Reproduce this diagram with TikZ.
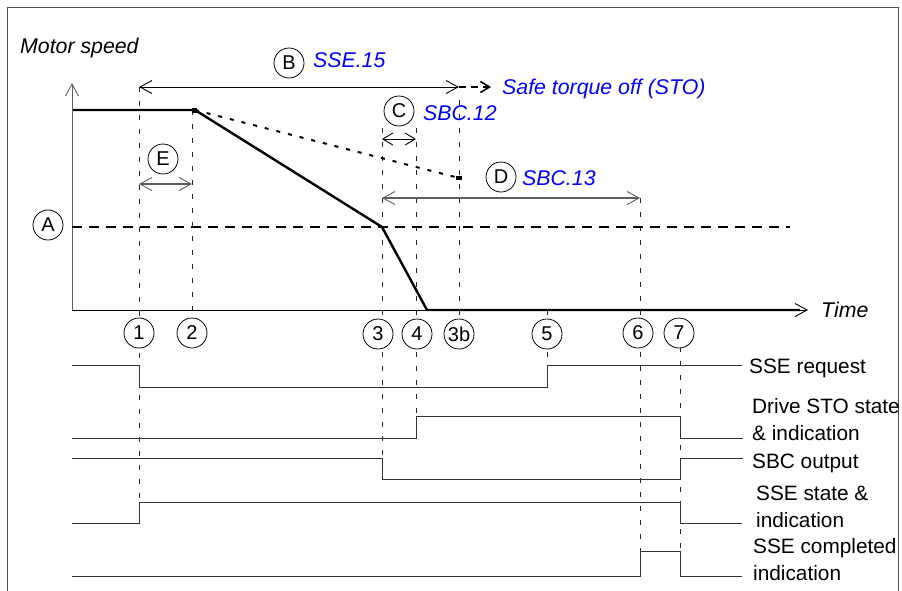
\documentclass[tikz,border=0pt]{standalone}
\usepackage{fontspec}
\setmainfont{Liberation Sans}
\usetikzlibrary{arrows.meta}
\definecolor{sigline}{RGB}{50,50,50}
\definecolor{frm}{RGB}{80,80,80}
\definecolor{arrgray}{RGB}{95,95,95}
\definecolor{txtblue}{RGB}{0,0,255}
\begin{document}
\begin{tikzpicture}[x=1pt,y=-1pt,
  lbl/.style={font=\fontsize{20.8}{27}\selectfont, inner sep=0pt, anchor=base west},
  ilbl/.style={font=\fontsize{21.3}{27}\selectfont\itshape, inner sep=0pt, anchor=base west},
  blbl/.style={ilbl, text=txtblue},
  circ/.style={circle, draw, fill=white, minimum size=30pt, inner sep=0pt, line width=0.8pt, font=\fontsize{20}{20}\selectfont},
  tline/.style={draw=black!85, line width=0.8pt, dash pattern=on 5pt off 9pt},
  sig/.style={draw=sigline, line width=1pt},
  barb/.tip={Straight Barb[length=12pt,width=13pt,line width=0.9pt]},
  dimarrow/.style={line width=1pt, barb-barb},
  speed/.style={line width=2.4pt, line join=round},
]
\useasboundingbox (0,0) rectangle (902,590);

% frame
\draw[frm, line width=1pt] (7,592) -- (7,7) -- (898,7) -- (898,592);

% time coordinates
\coordinate (b1) at (139,87);
\coordinate (b2) at (459,87);
\coordinate (sto) at (491,87);
\coordinate (c1) at (382,139);
\coordinate (c2) at (416,139);
\coordinate (e1) at (139,184);
\coordinate (e2) at (192,184);
\coordinate (d1) at (382,198);
\coordinate (d2) at (640,198);
\coordinate (o) at (72,310);
\coordinate (ytip) at (72,83);
\coordinate (xtip) at (808,310);
\coordinate (s0) at (73,110);
\coordinate (s1) at (195,110);
\coordinate (s2) at (382,227);
\coordinate (s3) at (427,310);
\coordinate (s4) at (800,310);
\coordinate (dotend) at (459,178);
\coordinate (a1) at (72,227);
\coordinate (a2) at (790,227);

% dashed time lines
\draw[tline] (139,87) -- (139,502);
\draw[tline] (192,110) -- (192,333);
\draw[tline] (382,128) -- (382,458);
\draw[tline] (416,128) -- (416,416);
\draw[tline] (459,100) -- (459,335);
\draw[tline] (547,310) -- (547,365);
\draw[tline] (640,198) -- (640,551);
\draw[tline] (680,333) -- (680,551);

% axes
\draw[draw=arrgray, line width=1pt, -barb] (o) -- (ytip);
\draw[line width=1pt, -barb] (o) -- (xtip);

% threshold A
\draw[line width=2.6pt, dash pattern=on 10pt off 7pt] (a1) -- (a2);

% speed curves
\draw[line width=2pt, dash pattern=on 4pt off 8pt] (s1) -- (dotend);
\fill (dotend) ++(-3,-2) rectangle ++(6,4);
\draw[speed] (s0) -- (s1) -- (s2) -- (s3) -- (s4);
\fill (s1) ++(-3,-2.5) rectangle ++(5,5);

% dimension arrows
\draw[dimarrow] (b1) -- (b2);
\draw[line width=1.6pt, dash pattern=on 7pt off 5pt, -{Straight Barb[length=9pt,width=11pt,line width=1.6pt]}] (b2) -- (sto);
\draw[line width=0.9pt, {Straight Barb[length=10pt,width=12pt]}-{Straight Barb[length=10pt,width=12pt]}] (c1) -- (c2);
\draw[dimarrow, draw=arrgray, line width=1.5pt] (e1) -- (e2);
\draw[dimarrow, draw=arrgray, line width=1.2pt] (d1) -- (d2);

% texts
\node[ilbl] (ms) at (20,53) {Motor speed};
\node[ilbl] (time) at (821,317) {Time};
\node[blbl] (sse15) at (313,67) {SSE.15};
\node[blbl] (stot) at (502,94) {Safe torque off (STO)};
\node[blbl] (sbc12) at (423,120) {SBC.12};
\node[blbl] (sbc13) at (522,185) {SBC.13};

% letter circles
\node[circ] (cA) at (48,225) {A};
\node[circ] (cB) at (289,63) {B};
\node[circ] (cC) at (399,111) {C};
\node[circ] (cD) at (501,177) {D};
\node[circ] (cE) at (163,159) {E};

% number circles
\node[circ] (n1) at (139,333) {1};
\node[circ] (n2) at (192,333) {2};
\node[circ] (n3) at (378,334) {3};
\node[circ] (n4) at (417,334) {4};
\node[circ] (n3b) at (459,334) {3b};
\node[circ] (n5) at (547,334) {5};
\node[circ] (n6) at (638,333) {6};
\node[circ] (n7) at (679,333) {7};

% signals
\draw[sig] (72,365) -- (139,365) -- (139,387) -- (547,387) -- (547,365) -- (742,365);
\node[lbl] (lreq) at (749,373) {SSE request};

\draw[sig] (72,438) -- (416,438) -- (416,416) -- (680,416) -- (680,438) -- (743,438);
\node[lbl] (lsto1) at (752,413) {Drive STO state};
\node[lbl] (lsto2) at (752,440) {\& indication};

\draw[sig] (72,458) -- (382,458) -- (382,479) -- (680,479) -- (680,458) -- (743,458);
\node[lbl] (lsbc) at (752,468) {SBC output};

\draw[sig] (72,523) -- (139,523) -- (139,502) -- (680,502) -- (680,523) -- (742,523);
\node[lbl] (lst1) at (756,500) {SSE state \&};
\node[lbl] (lst2) at (756,527) {indication};

\draw[sig] (72,576) -- (640,576) -- (640,551) -- (680,551) -- (680,576) -- (742,576);
\node[lbl] (lcp1) at (753,553) {SSE completed};
\node[lbl] (lcp2) at (753,580) {indication};
\end{tikzpicture}
\end{document}
